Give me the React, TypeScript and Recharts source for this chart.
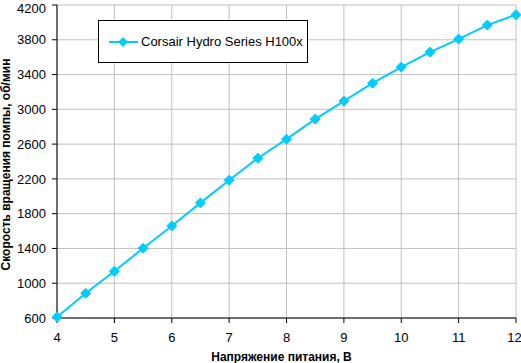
import React from 'react';
import { LineChart, Line, XAxis, YAxis, CartesianGrid, Legend } from 'recharts';

const voltage = [4, 4.5, 5, 5.5, 6, 6.5, 7, 7.5, 8, 8.5, 9, 9.5, 10, 10.5, 11, 11.5, 12];
const rpm = [612, 884, 1137, 1402, 1659, 1924, 2185, 2438, 2657, 2887, 3094, 3301, 3486, 3658, 3808, 3969, 4088];
const xTicks = [4, 5, 6, 7, 8, 9, 10, 11, 12];
const yTicks = [600, 1000, 1400, 1800, 2200, 2600, 3000, 3400, 3800, 4200];

const SERIES_NAME = 'Corsair Hydro Series H100x';
const CYAN = '#00ccff';
const FONT = '"Liberation Sans", Arial, sans-serif';

const data = voltage.map((v, i) => ({ v, rpm: rpm[i] }));

const Diamond = ({ cx, cy }: any) => (
  <polygon
    points={`${cx},${cy - 5} ${cx + 5},${cy} ${cx},${cy + 5} ${cx - 5},${cy}`}
    fill={CYAN}
    stroke={CYAN}
  />
);

// legend drawn as the boxed Excel-style key
const LegendBox = () => (
  <div
    style={{
      width: 208,
      height: 41,
      border: '1px solid #000',
      background: '#fff',
      display: 'flex',
      alignItems: 'center',
      fontFamily: FONT,
      fontSize: 13,
      color: '#000',
    }}
  >
    <svg width={42} height={12} style={{ marginLeft: 10 }}>
      <line x1={0} y1={6} x2={29} y2={6} stroke={CYAN} strokeWidth={2} />
      <polygon points="14,1 19,6 14,11 9,6" fill={CYAN} />
    </svg>
    <span style={{ marginLeft: -10 }}>{SERIES_NAME}</span>
  </div>
);

export default function App() {
  return (
    <div style={{ position: 'absolute', left: 0, top: 0, background: '#fff' }}>
      <LineChart width={521} height={363} data={data} margin={{ top: 5, right: 5, bottom: 0, left: 0 }}>
        <CartesianGrid stroke="#c0c0c0" strokeWidth={1} />
        <XAxis
          dataKey="v"
          type="number"
          domain={[4, 12]}
          ticks={xTicks}
          height={45}
          axisLine={{ stroke: '#000' }}
          tickLine={{ stroke: '#000' }}
          tickSize={5}
          tickMargin={10}
          tick={{ fill: '#000', fontSize: 13, fontFamily: FONT }}
          label={{
            value: 'Напряжение питания, В',
            position: 'insideBottom',
            offset: 2,
            dx: -5,
            style: { fontFamily: FONT, fontSize: 12, fontWeight: 'bold', fill: '#000' },
          }}
        />
        <YAxis
          type="number"
          domain={[600, 4200]}
          ticks={yTicks}
          width={57}
          axisLine={{ stroke: '#000' }}
          tickLine={{ stroke: '#000' }}
          tickSize={5}
          tickMargin={6}
          tick={{ fill: '#000', fontSize: 13, fontFamily: FONT }}
          label={{
            content: ({ viewBox }: any) => {
              const x = viewBox.x + 10;
              const y = viewBox.y + viewBox.height / 2 + 3;
              return (
                <text
                  x={x}
                  y={y}
                  transform={`rotate(-90, ${x}, ${y})`}
                  textAnchor="middle"
                  style={{ fontFamily: FONT, fontSize: 12, fontWeight: 'bold', fill: '#000' }}
                >
                  Скорость вращения помпы, об/мин
                </text>
              );
            },
          }}
        />
        <Legend
          layout="horizontal"
          align="center"
          verticalAlign="middle"
          content={<LegendBox />}
          wrapperStyle={{ position: 'absolute', left: 98, top: 20, width: 210, height: 43 }}
        />
        <Line
          dataKey="rpm"
          name={SERIES_NAME}
          stroke={CYAN}
          strokeWidth={2}
          dot={<Diamond />}
          activeDot={false}
          isAnimationActive={false}
        />
      </LineChart>
    </div>
  );
}
